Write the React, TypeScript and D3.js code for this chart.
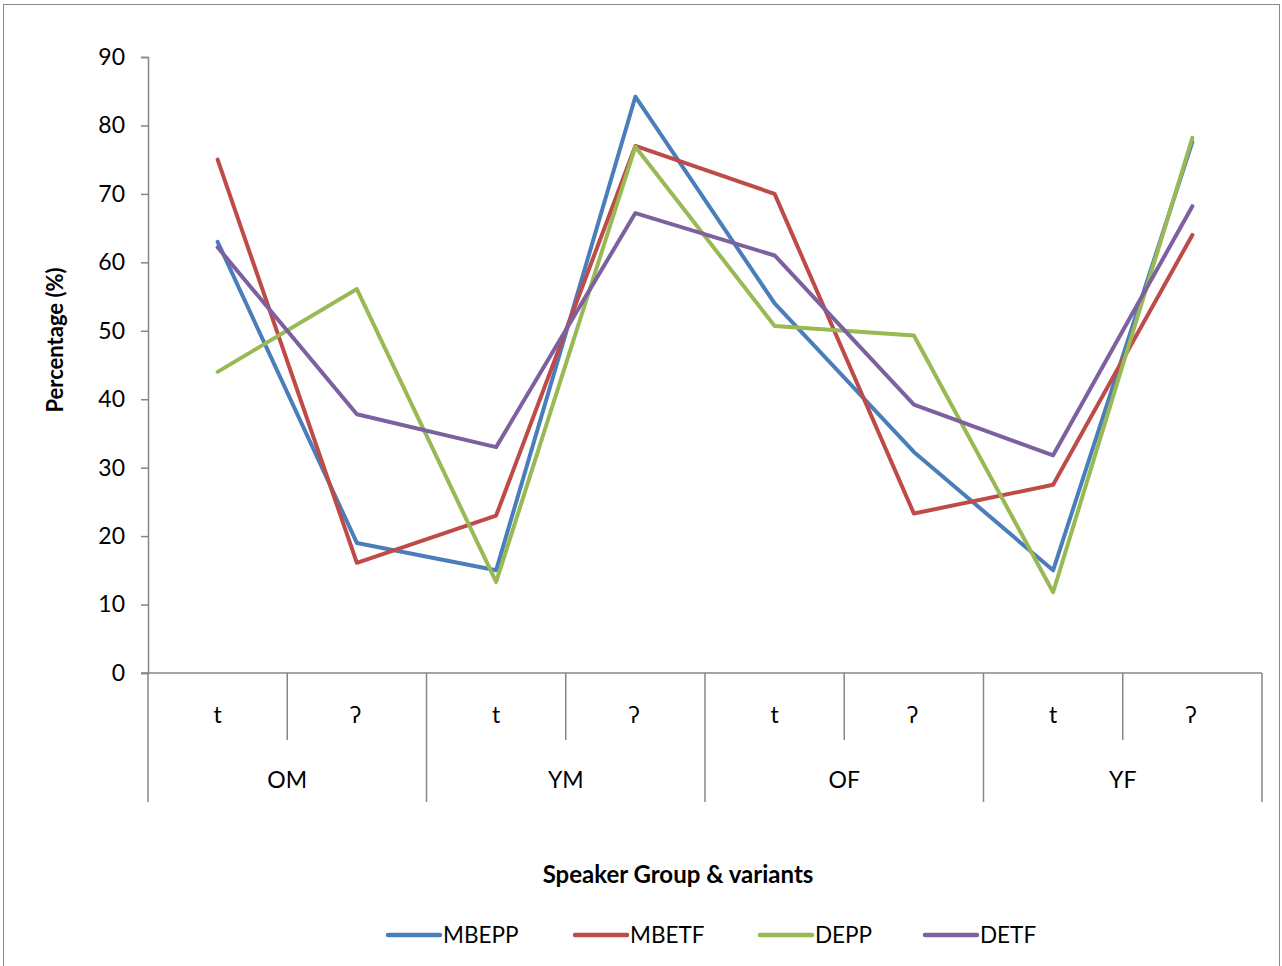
import { useRef, useEffect } from 'react';
import * as d3 from 'd3';

const groups = ['OM', 'YM', 'OF', 'YF'];
const variants = ['t', 'ʔ'];
const seriesNames = ['MBEPP', 'MBETF', 'DEPP', 'DETF'];
const seriesColors = ['#4A7EBB', '#BE4B48', '#98B954', '#7D60A0'];

const mbepp = [63, 19, 15, 84.2, 54, 32.3, 15, 77.6];
const mbetf = [75, 16.1, 23, 77, 70, 23.3, 27.5, 64];
const depp = [44, 56.1, 13.3, 76.9, 50.7, 49.3, 11.8, 78.2];
const detf = [62.2, 37.8, 33, 67.2, 61, 39.2, 31.8, 68.2];

const yTicks = [0, 10, 20, 30, 40, 50, 60, 70, 80, 90];

const FONT = 'Lato, "Open Sans", sans-serif';

const App = () => {
  const svgRef = useRef<SVGSVGElement>(null);

  useEffect(() => {
    if (!svgRef.current) return;

    const width = 1282;
    const height = 966;
    const marginLeft = 148;
    const marginRight = 20;
    const plotTop = 57;
    const plotBottom = 673;

    const svg = d3.select(svgRef.current).attr('width', width).attr('height', height);
    svg.selectAll('*').remove();

    // outer frame
    svg
      .append('rect')
      .attr('x', 3.5)
      .attr('y', 4.5)
      .attr('width', 1276)
      .attr('height', 1000)
      .attr('fill', 'white')
      .attr('stroke', '#888')
      .attr('stroke-width', 1);

    const categories = groups.flatMap((g) => variants.map((v) => `${g}|${v}`));

    const xScale = d3
      .scaleBand()
      .domain(categories)
      .range([marginLeft, width - marginRight]);

    const groupScale = d3
      .scaleBand()
      .domain(groups)
      .range([marginLeft, width - marginRight]);

    const yScale = d3.scaleLinear().domain([0, 90]).range([plotBottom, plotTop]);

    const axisColor = '#868686';

    // y axis
    const yAxis = svg
      .append('g')
      .attr('transform', `translate(${marginLeft},0)`)
      .call(d3.axisLeft(yScale).tickValues(yTicks).tickSize(7).tickPadding(16));
    yAxis.select('.domain').attr('stroke', axisColor).attr('stroke-width', 1.5);
    yAxis.selectAll('.tick line').attr('stroke', axisColor).attr('stroke-width', 1.5);
    yAxis
      .selectAll('.tick text')
      .attr('fill', '#000')
      .style('font-size', '23px')
      .style('font-family', FONT);

    svg
      .append('text')
      .attr('transform', `translate(63,340) rotate(-90)`)
      .attr('text-anchor', 'middle')
      .style('font-family', FONT)
      .style('font-size', '22px')
      .style('font-weight', 'bold')
      .text('Percentage (%)');

    // x axis: baseline and category dividers
    const xg = svg.append('g').attr('stroke', axisColor).attr('stroke-width', 1.5);
    xg.append('line')
      .attr('x1', marginLeft - 7)
      .attr('x2', width - marginRight)
      .attr('y1', plotBottom)
      .attr('y2', plotBottom);

    categories.forEach((c, i) => {
      const x0 = xScale(c)!;
      const isGroupStart = i % 2 === 0;
      xg.append('line')
        .attr('x1', x0)
        .attr('x2', x0)
        .attr('y1', plotBottom)
        .attr('y2', isGroupStart ? 802 : 740);
    });
    xg.append('line')
      .attr('x1', width - marginRight)
      .attr('x2', width - marginRight)
      .attr('y1', plotBottom)
      .attr('y2', 802);

    svg
      .append('g')
      .selectAll('text')
      .data(categories)
      .enter()
      .append('text')
      .attr('x', (d) => xScale(d)! + xScale.bandwidth() / 2)
      .attr('y', 723)
      .attr('text-anchor', 'middle')
      .style('font-family', FONT)
      .style('font-size', '23px')
      .text((d) => d.split('|')[1]);

    svg
      .append('g')
      .selectAll('text')
      .data(groups)
      .enter()
      .append('text')
      .attr('x', (d) => groupScale(d)! + groupScale.bandwidth() / 2)
      .attr('y', 788)
      .attr('text-anchor', 'middle')
      .style('font-family', FONT)
      .style('font-size', '23px')
      .text((d) => d);

    svg
      .append('text')
      .attr('x', 678)
      .attr('y', 883)
      .attr('text-anchor', 'middle')
      .style('font-family', FONT)
      .style('font-size', '24px')
      .style('font-weight', 'bold')
      .text('Speaker Group & variants');

    // lines
    const seriesData = [mbepp, mbetf, depp, detf];
    const line = d3
      .line<number>()
      .x((_, i) => xScale(categories[i])! + xScale.bandwidth() / 2)
      .y((d) => yScale(d));

    svg
      .append('g')
      .selectAll('path')
      .data(seriesData)
      .enter()
      .append('path')
      .attr('d', (d) => line(d))
      .attr('fill', 'none')
      .attr('stroke', (_, i) => seriesColors[i])
      .attr('stroke-width', 4)
      .attr('stroke-linejoin', 'round')
      .attr('stroke-linecap', 'round');

    // legend
    const legendX = [388, 575, 760, 925];
    const legend = svg
      .append('g')
      .selectAll('g')
      .data(seriesNames)
      .enter()
      .append('g')
      .attr('transform', (_, i) => `translate(${legendX[i]},935)`);
    legend
      .append('line')
      .attr('x1', 0)
      .attr('x2', 52)
      .attr('stroke', (_, i) => seriesColors[i])
      .attr('stroke-width', 4.5)
      .attr('stroke-linecap', 'round');
    legend
      .append('text')
      .attr('x', 55)
      .attr('y', 8)
      .style('font-family', FONT)
      .style('font-size', '22.5px')
      .text((d) => d);
  }, []);

  return (
    <div style={{ position: 'absolute', left: 0, top: 0 }}>
      <svg ref={svgRef} style={{ display: 'block' }}></svg>
    </div>
  );
};

export default App;
